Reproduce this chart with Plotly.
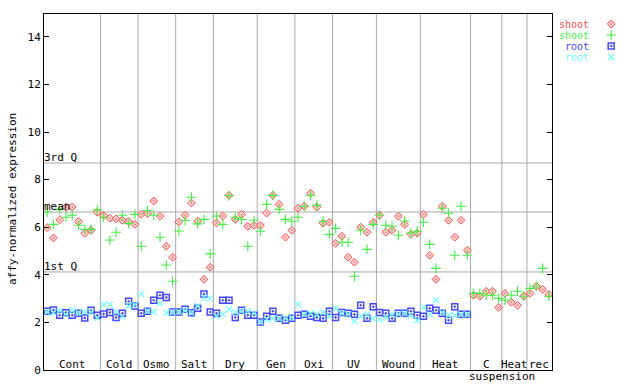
import plotly.graph_objects as go

# ---- data ----
groups = ["Cont", "Cold", "Osmo", "Salt", "Dry", "Gen", "Oxi", "UV", "Wound", "Heat", "C", "Heat", "rec"]
group_sizes = [9, 6, 6, 6, 7, 6, 6, 7, 7, 8, 5, 4, 4]

shoot_rep1 = [5.98, 5.55, 6.31, 6.84, 6.85, 6.24, 5.75, 5.87, 6.63,
              6.50, 6.38, 6.35, 6.29, 6.24, 6.12,
              6.54, 6.57, 7.10, 6.46, 5.20, 4.74,
              6.22, 6.50, 7.02, 6.26, 3.81, 4.32,
              6.18, 6.47, 7.34, 6.33, 6.54, 6.04, 6.08,
              6.08, 6.59, 7.34, 6.96, 5.58, 5.87,
              6.80, 6.88, 7.43, 6.84, 6.17, 6.21,
              5.32, 5.62, 4.74, 4.53, 6.00, 5.79, 6.21,
              6.50, 5.79, 5.87, 6.46, 6.12, 5.70, 5.75,
              6.54, 4.82, 3.81, 6.88, 6.29, 5.58, 6.29, 5.03,
              3.14, 3.10, 3.31, 3.31, 2.63,
              3.22, 2.85, 2.72, 3.10,
              3.22, 3.52, 3.39, 3.18]

shoot_rep2 = [6.64, 6.12, 6.75, 6.42, 6.50, 6.08, 5.91, 5.91, 6.73,
              6.42, 5.46, 5.79, 6.50, 6.15, 6.54,
              5.20, 6.70, 6.50, 5.58, 4.41, 3.73,
              5.84, 6.28, 7.26, 6.14, 6.33, 4.88,
              6.47, 6.12, 7.32, 6.42, 6.33, 5.20, 6.29,
              5.83, 6.96, 7.34, 6.75, 6.33, 6.25,
              6.42, 6.88, 7.34, 6.92, 6.25, 5.70,
              5.95, 5.37, 5.37, 3.94, 5.87, 5.07, 6.12,
              6.50, 6.08, 6.04, 5.66, 6.26, 5.75, 5.83,
              6.21, 5.28, 4.27, 6.80, 6.59, 4.82, 6.88, 4.82,
              3.22, 3.22, 3.14, 3.14, 3.01,
              2.93, 3.14, 3.31, 3.10,
              3.43, 3.52, 4.27, 3.10]

root_rep1 = [2.47, 2.52, 2.30, 2.41, 2.30, 2.38, 2.19, 2.51, 2.30,
             2.35, 2.42, 2.21, 2.38, 2.89, 2.69,
             2.38, 2.47, 2.93, 3.14, 3.05, 2.44,
             2.44, 2.55, 2.41, 2.59, 3.19, 2.44,
             2.38, 2.93, 2.93, 2.21, 2.51, 2.30, 2.30,
             2.02, 2.26, 2.47, 2.17, 2.09, 2.17,
             2.30, 2.34, 2.26, 2.21, 2.17, 2.47,
             2.21, 2.42, 2.38, 2.34, 2.72, 2.17, 2.66,
             2.42, 2.38, 2.17, 2.38, 2.38, 2.47, 2.30,
             2.26, 2.59, 2.51, 2.38, 2.09, 2.66, 2.34, 2.34]

root_rep2 = [2.44, 2.41, 2.49, 2.35, 2.49, 2.41, 2.44, 2.44, 2.19,
             2.75, 2.75, 2.44, 2.24, 2.69, 2.75,
             3.19, 2.47, 2.44, 2.80, 2.41, 2.42,
             2.44, 2.50, 2.41, 2.69, 3.03, 3.01,
             2.26, 2.34, 2.55, 2.42, 2.47, 2.47, 2.38,
             2.02, 2.13, 2.17, 2.17, 2.17, 2.21,
             2.76, 2.34, 2.38, 2.34, 2.42, 2.26,
             2.59, 2.38, 2.34, 2.05, 2.26, 2.34, 2.17,
             2.13, 2.21, 2.34, 2.35, 2.38, 2.30, 2.09,
             2.63, 2.34, 2.93, 2.42, 2.30, 2.30, 2.34, 2.34]

ref_names = ["3rd Q", "mean", "1st Q"]
ref_values = [8.70, 6.64, 4.12]

y_ticks = [0, 2, 4, 6, 8, 10, 12, 14]

legend_names = ["shoot", "shoot", "root", "root"]

# ---- style ----
RED = "#ff4a4a"
GREEN = "#44ee44"
BLUE = "#4646ff"
CYAN = "#66ffff"
GRID = "#a8a8a8"
FONT = "DejaVu Sans Mono"

# (values, line colour, fill colour, symbol, size, line width)
series = [
    (shoot_rep1, RED, "#ffd0d0", "diamond-dot", 6, 1),
    (shoot_rep2, GREEN, GREEN, "cross-thin-open", 7, 1.1),
    (root_rep1, BLUE, BLUE, "square-open-dot", 6, 1.5),
    (root_rep2, CYAN, CYAN, "x-thin-open", 6, 1.1),
]

W, H = 640, 384
ML, MR, MT, MB = 44, 4, 14, 14
plot_w = W - ML - MR
plot_h = H - MT - MB
main_w = 508
dom_end = main_w / plot_w

fig = go.Figure()

for vals, col, fill, sym, sz, lw in series:
    fig.add_trace(go.Scatter(
        x=list(range(len(vals))), y=vals, mode="markers",
        marker=dict(symbol=sym, size=sz, color=fill, line=dict(color=col, width=lw)),
        showlegend=False, xaxis="x", yaxis="y", hoverinfo="skip"))

n_total = sum(group_sizes)
shapes = []
annotations = []

# group boundaries + labels
start = 0
for name, n in zip(groups, group_sizes):
    end = start + n
    center = (start + end - 1) / 2
    annotations.append(dict(x=center, y=0, xref="x", yref="y", text=name, showarrow=False,
                            xanchor="center", yanchor="bottom", yshift=-3,
                            font=dict(family=FONT, size=11, color="black")))
    if end < n_total:
        shapes.append(dict(type="line", xref="x", yref="y domain", x0=end - 0.5, x1=end - 0.5,
                           y0=0, y1=1, line=dict(color=GRID, width=1), layer="below"))
    start = end

# "suspension" under the C / Heat / rec block, at boundary after "C"
susp_x = sum(group_sizes[:11]) - 0.5
annotations.append(dict(x=susp_x, y=-MB / plot_h, xref="x", yref="paper", text="suspension",
                        showarrow=False, xanchor="center", yanchor="bottom", borderpad=0,
                        font=dict(family=FONT, size=11, color="black")))

# reference lines
for nm, v in zip(ref_names, ref_values):
    shapes.append(dict(type="line", xref="x domain", yref="y", x0=0, x1=1, y0=v, y1=v,
                       line=dict(color=GRID, width=1), layer="below"))
    annotations.append(dict(x=0, y=v, xref="x domain", yref="y", text=nm, showarrow=False,
                            xanchor="left", yanchor="bottom", xshift=-2, yshift=-3,
                            font=dict(family=FONT, size=11, color="black")))

# y axis title
annotations.append(dict(x=-32 / plot_w, y=(370 - 199) / plot_h, xref="paper", yref="paper",
                        text="affy-normalized expression", textangle=-90, showarrow=False,
                        xanchor="center", yanchor="middle",
                        font=dict(family=FONT, size=11, color="black")))

# custom legend (text on left, marker on right) in an overlay axis measured in pixels
for k, (nm, (vals, col, fill, sym, sz, lw)) in enumerate(zip(legend_names, series)):
    ly = 24 + 11 * k
    annotations.append(dict(x=590, y=ly, xref="x2", yref="y2", text=nm, showarrow=False,
                            xanchor="right", yanchor="middle", borderpad=0,
                            font=dict(family=FONT, size=10, color=col)))
    fig.add_trace(go.Scatter(x=[611], y=[ly], mode="markers", xaxis="x2", yaxis="y2",
                             marker=dict(symbol=sym, size=sz, color=fill,
                                         line=dict(color=col, width=lw)),
                             showlegend=False, hoverinfo="skip"))

fig.update_layout(
    width=W, height=H,
    margin=dict(l=ML, r=MR, t=MT, b=MB),
    paper_bgcolor="white", plot_bgcolor="white",
    showlegend=False,
    shapes=shapes, annotations=annotations,
    xaxis=dict(domain=[0, dom_end], range=[-0.5, n_total - 0.5], showticklabels=False,
               ticks="", showgrid=False, zeroline=False, showline=True, linecolor="black",
               linewidth=1, mirror=True),
    yaxis=dict(range=[0, 14.96], tickvals=y_ticks, ticks="inside", ticklen=5, tickcolor="black",
               showgrid=False, zeroline=False, showline=True, linecolor="black", linewidth=1,
               mirror="ticks", tickfont=dict(family=FONT, size=11, color="black")),
    xaxis2=dict(domain=[dom_end + 0.001, 1], range=[ML + main_w, W - MR], anchor="y2",
                visible=False, fixedrange=True),
    yaxis2=dict(domain=[0, 1], range=[H - MB, MT], anchor="x2", visible=False, fixedrange=True),
)

fig.write_html("out.html", config={"displayModeBar": False, "staticPlot": True},
               post_script="document.body.style.margin='0';document.body.style.padding='0';"
                           "document.documentElement.style.overflow='hidden';")
